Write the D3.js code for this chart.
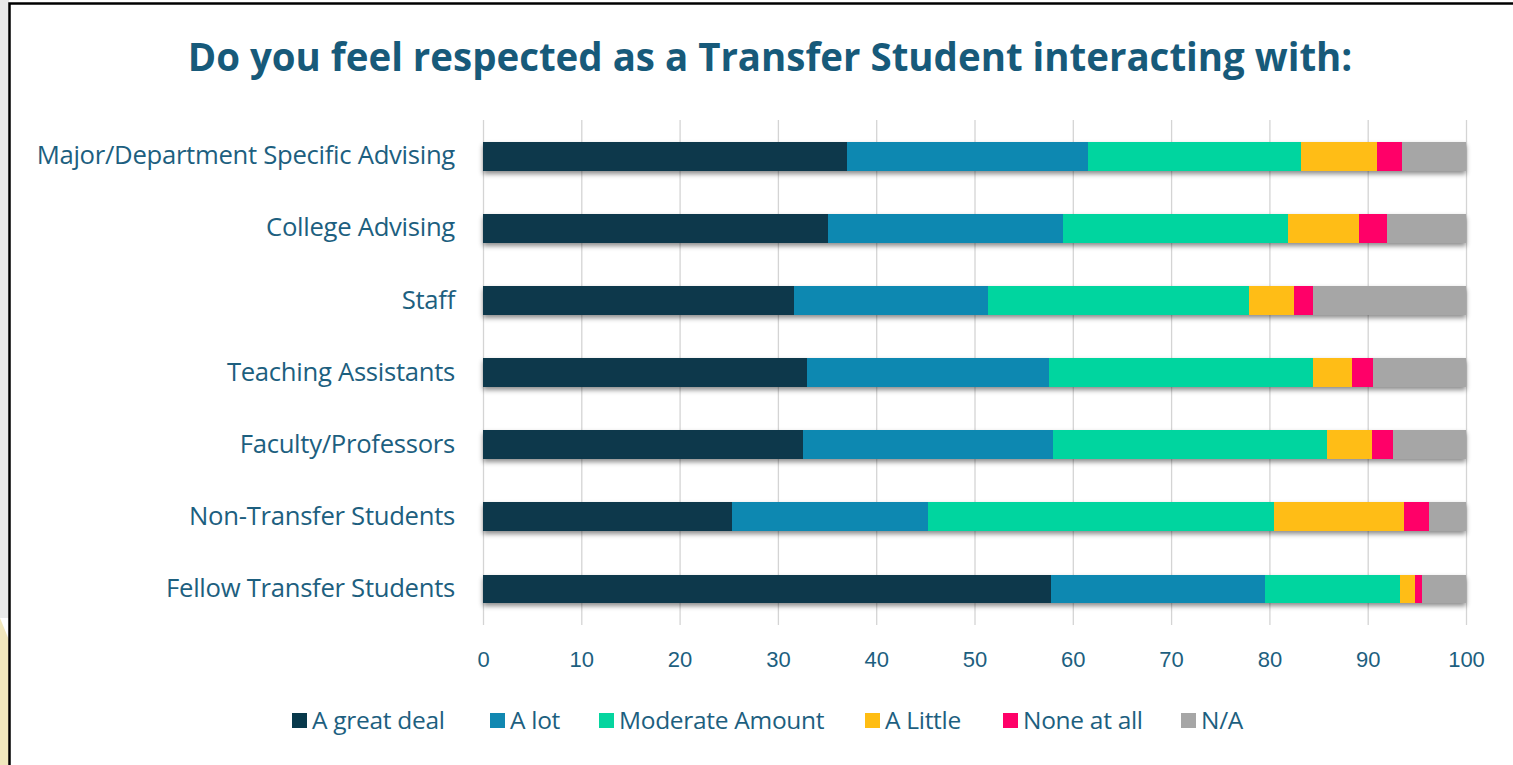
<!DOCTYPE html>
<html lang="en">
<head>
  <meta charset="utf-8">
  <title>Respected as a Transfer Student</title>
  <script src="https://d3js.org/d3.v7.min.js"></script>
  <style>
    html, body { margin: 0; background: #fff; overflow: hidden; }
    svg { display: block; }
    #chart text { font-family: "Open Sans", "Noto Sans", sans-serif; }
  </style>
</head>
<body>
  <div id="chart"></div>

  <script>
    "use strict"

    // data (percent)
    var categories = ["Major/Department Specific Advising", "College Advising", "Staff",
      "Teaching Assistants", "Faculty/Professors", "Non-Transfer Students", "Fellow Transfer Students"];
    var series = ["A great deal", "A lot", "Moderate Amount", "A Little", "None at all", "N/A"];
    var aGreatDeal = [37.0, 35.1, 31.6, 33.0, 32.6, 25.3, 57.8];
    var aLot       = [24.5, 23.9, 19.8, 24.6, 25.4, 20.0, 21.8];
    var moderate   = [21.7, 22.9, 26.5, 26.8, 27.9, 35.2, 13.7];
    var aLittle    = [7.7, 7.2, 4.6, 4.0, 4.5, 13.2, 1.5];
    var noneAtAll  = [2.6, 2.9, 1.9, 2.1, 2.2, 2.5, 0.7];
    var notApplic  = [6.5, 8.0, 15.6, 9.5, 7.4, 3.8, 4.5];
    var xTicks = [0, 10, 20, 30, 40, 50, 60, 70, 80, 90, 100];
    var colors = ["#08394b", "#1188b1", "#05d59f", "#ffbd12", "#ff0068", "#a6a6a6"];

    var values = [aGreatDeal, aLot, moderate, aLittle, noneAtAll, notApplic];
    var rows = categories.map(function(c, i) {
      var r = { cat: c };
      series.forEach(function(s, j) { r[s] = values[j][i]; });
      return r;
    });

    var W = 1513, H = 765;
    var textColor = "#1d5f7f";

    var svg = d3.select("#chart").append("svg")
      .attr("width", W).attr("height", H)
      .style("overflow", "hidden");

    var defs = svg.append("defs");
    var shadow = defs.append("filter").attr("id", "shadow")
      .attr("x", "-5%").attr("y", "-30%").attr("width", "110%").attr("height", "190%");
    shadow.append("feDropShadow")
      .attr("dx", 0).attr("dy", 3).attr("stdDeviation", 2.5)
      .attr("flood-color", "#000").attr("flood-opacity", 0.45);

    // outer frame (top and left edges only) and background scrap
    svg.append("path")
      .attr("d", "M0,618 L9,640 L9,765 L0,765 Z").attr("fill", "#f1e7bd");
    svg.append("rect").attr("x", 0).attr("y", 0).attr("width", 9).attr("height", 618).attr("fill", "#e9e9e9");
    svg.append("path")
      .attr("d", "M9.5," + H + " L9.5,3.5 L" + W + ",3.5")
      .attr("fill", "none").attr("stroke", "#000").attr("stroke-width", 2.5);

    var x = d3.scaleLinear().domain([0, 100]).range([483, 1466]);
    var y = d3.scaleBand().domain(categories).range([120, 625]).paddingInner(0.6).paddingOuter(0.3);

    var g = svg.append("g");

    // gridlines
    g.append("g")
      .attr("transform", "translate(0,625)")
      .call(d3.axisBottom(x).tickValues(xTicks).tickSize(-505).tickFormat(""))
      .call(function(a) {
        a.select(".domain").remove();
        a.selectAll("line").attr("stroke", "#d4d4d4").attr("stroke-width", 1.3);
      });

    var stack = d3.stack().keys(series)(rows);

    var groups = g.selectAll("g.bar").data(categories).enter().append("g")
      .attr("class", "bar").attr("filter", "url(#shadow)");

    groups.each(function(cat, i) {
      d3.select(this).selectAll("rect")
        .data(stack.map(function(s) { return s[i]; }))
        .enter().append("rect")
        .attr("x", function(d) { return x(d[0]); })
        .attr("width", function(d) { return x(d[1]) - x(d[0]); })
        .attr("y", y(cat))
        .attr("height", y.bandwidth())
        .attr("fill", function(d, j) { return colors[j]; })
        .attr("shape-rendering", "crispEdges");
    });

    // x axis labels
    g.append("g")
      .attr("transform", "translate(0,625)")
      .call(d3.axisBottom(x).tickValues(xTicks).tickSize(0).tickPadding(26))
      .call(function(a) {
        a.select(".domain").remove();
        a.selectAll("text").attr("fill", textColor).style("font-size", "22px")
          .style("font-family", "'Liberation Sans', Arial, sans-serif");
      });

    // category labels
    g.append("g")
      .attr("transform", "translate(455,0)")
      .call(d3.axisLeft(y).tickSize(0).tickPadding(0))
      .call(function(a) {
        a.select(".domain").remove();
        a.selectAll("text").attr("fill", textColor).style("font-size", "25.7px")
          .attr("dy", "0.32em").style("letter-spacing", "-0.3px");
      });

    // title
    var title = svg.append("text")
      .attr("x", 770).attr("y", 71)
      .attr("text-anchor", "middle")
      .attr("fill", "#175a7a")
      .style("font-weight", "bold")
      .style("font-size", "34px")
      .text("Do you feel respected as a Transfer Student interacting with:");
    var tw = title.node().getComputedTextLength();
    title.style("font-size", (34 * 1165 / tw) + "px");

    // legend
    var legend = svg.append("g").attr("transform", "translate(0,720)");
    var legendX = [292, 490, 599, 865, 1003, 1181];
    series.forEach(function(s, i) {
      var item = legend.append("g").attr("transform", "translate(" + legendX[i] + ",0)");
      item.append("rect").attr("x", 0).attr("y", -7).attr("width", 15).attr("height", 15)
        .attr("fill", colors[i]);
      item.append("text").attr("x", 20).attr("y", 0).attr("dy", "0.35em")
        .attr("fill", textColor).style("font-size", "24.5px").style("letter-spacing", "-0.3px")
        .text(s);
    });
  </script>
</body>
</html>
